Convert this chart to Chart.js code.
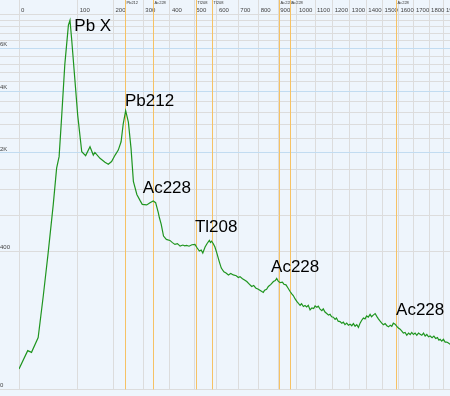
<!DOCTYPE html>
<html>
<head>
<meta charset="utf-8">
<script src="https://cdn.jsdelivr.net/npm/chart.js@4.4.1/dist/chart.umd.min.js"></script>
<style>
  html, body { margin: 0; padding: 0; background: #eef5fc; }
  canvas { display: block; }
</style>
</head>
<body>
<canvas id="spectrumChart" width="450" height="396"></canvas>
<script>
// spectrum: energy (keV) and counts
const energies = [
  0, 7.6, 12, 21, 29, 37, 46.5, 53, 58, 63, 70, 78, 81.6, 85.6, 93, 100, 110, 120, 131.6, 140.6,
  145, 159.5, 174, 184, 194, 205, 215, 224, 231, 239, 248, 257, 265, 277, 288, 296, 312, 324, 336, 345,
  355, 359, 366, 375, 386, 400, 410, 420, 430, 441, 452, 460, 468, 478, 490, 503, 512, 522, 530, 537,
  547, 556, 566, 571, 576, 583, 591, 600, 611, 620, 632, 642, 653, 664, 676, 690, 700, 708, 720, 730,
  741, 752, 765, 775, 785, 798, 810, 823, 830, 840, 849, 862, 875, 885, 892, 900, 910, 922, 930, 941,
  950, 963, 972, 980, 990, 1000, 1008, 1017, 1025, 1035, 1044, 1053, 1062, 1072, 1082, 1092, 1100, 1110, 1118, 1128,
  1138, 1146, 1156, 1166, 1176, 1185, 1194, 1204, 1214, 1222, 1232, 1243, 1253, 1262, 1272, 1282, 1292, 1302, 1312, 1322,
  1332, 1342, 1352, 1362, 1372, 1382, 1392, 1402, 1412, 1423, 1432, 1442, 1454, 1464, 1474, 1485, 1495, 1505, 1516, 1527,
  1538, 1548, 1558, 1568, 1579, 1590, 1600, 1611, 1622, 1632, 1643, 1654, 1665, 1676, 1686, 1697, 1708, 1719, 1730, 1741,
  1752, 1763, 1774, 1785, 1796, 1807, 1820, 1832, 1844, 1856, 1866, 1874, 1885, 1896, 1908, 1919, 1930, 1941
];
const counts = [
  1.3, 8.8, 7.7, 21, 126, 378, 958, 1638, 1907, 2995, 5181, 7308, 7609, 6453, 4505, 3104, 2031, 1932, 2160, 1946,
  2013, 1866, 1772, 1727, 1789, 1946, 2072, 2295, 2834, 3275, 2888, 2116, 1363, 1120, 1021, 958, 949, 984, 1011, 984,
  836, 768, 683, 545, 510, 500, 478, 461, 468, 445, 455, 447, 452, 444, 458, 461, 430, 401, 410, 384,
  436, 470, 500, 480, 493, 470, 436, 380, 314, 270, 246, 238, 227, 236, 227, 222, 212, 217, 205, 198,
  190, 178, 165, 170, 158, 152, 145, 138, 148, 152, 165, 175, 190, 195, 207, 192, 184, 186, 176, 173,
  160, 142, 132, 125, 112, 102, 96, 90, 95, 86, 89, 85, 90, 76, 82, 80, 88, 84, 87, 78,
  74, 79, 70, 66, 62, 64, 58, 57, 52, 55, 48, 47, 44, 46, 41, 44, 40, 42, 39, 43,
  38, 41, 36, 44, 50, 55, 53, 60, 57, 64, 58, 62, 66, 59, 53, 48, 44, 41, 43, 39,
  37, 40, 38, 44, 42, 38, 35, 33, 30, 27, 28, 24, 27, 25, 28, 25, 27, 24, 27, 25.5,
  24, 27, 23, 25, 22, 23, 21, 23, 20, 21, 18, 19, 17, 19, 16, 16, 15, 14
];

// axis ticks
const xTickValues = [0, 100, 200, 300, 400, 500, 600, 700, 800, 900, 1000, 1100, 1200, 1300, 1400, 1500, 1600, 1700, 1800, 1900];
const yTickValues = [0, 400, 800, 1200, 1600, 2000, 2400, 2800, 3200, 3600, 4000, 4400, 4800, 5200, 5600, 6000, 6400, 6800, 7200, 7600, 8000];
const yLabelValues = [0, 400, 2000, 4000, 6000];
const yLabelTexts = ['0', '400', '2K', '4K', '6K'];
const yMajorValues = [2000, 4000, 6000];

// isotope marker lines
const isotopeNames = ['Pb212', 'Ac228', 'Tl208', 'Tl208', 'Ac228', 'Ac228', 'Ac228'];
const isotopeEnergies = [238.6, 338.3, 510.8, 583.2, 911.2, 969.0, 1588.2];

// peak captions, anchored at (energy, counts)
const peakNames = ['Pb X', 'Pb212', 'Ac228', 'Tl208', 'Ac228', 'Ac228'];
const peakEnergies = [91.7, 236.8, 298, 503, 863, 1585];
const peakCounts = [6975, 3452, 1137, 587, 246, 62];

// power-law axes (cube root counts, compressed energy)
function makePowerScale(id, exponent, shift) {
    class PowerScale extends Chart.LinearScale {
        configure() {
            super.configure();
            this._fMin = this.fwd(this.min);
            this._fMax = this.fwd(this.max);
        }
        fwd(v) { return Math.pow(v + shift, exponent); }
        inv(f) { return Math.pow(f, 1 / exponent) - shift; }
        getPixelForValue(value) {
            if (value === null || value === undefined || isNaN(value)) return NaN;
            return this.getPixelForDecimal((this.fwd(value) - this._fMin) / (this._fMax - this._fMin));
        }
        getValueForPixel(pixel) {
            return this.inv(this._fMin + this.getDecimalForPixel(pixel) * (this._fMax - this._fMin));
        }
    }
    PowerScale.id = id;
    PowerScale.defaults = Chart.LinearScale.defaults;
    return PowerScale;
}
Chart.register(makePowerScale('energy', 0.653, 2), makePowerScale('cuberoot', 1 / 3, 0));

const background = {
    id: 'background',
    beforeDraw(chart) {
        const ctx = chart.ctx;
        ctx.save();
        ctx.fillStyle = '#eef5fc';
        ctx.fillRect(0, 0, chart.width, chart.height);
        ctx.restore();
    },
};

const isotopeLines = {
    id: 'isotopeLines',
    beforeDatasetsDraw(chart) {
        const ctx = chart.ctx;
        const x = chart.scales.x;
        ctx.save();
        ctx.lineWidth = 1;
        ctx.font = '4px "Liberation Sans"';
        ctx.textBaseline = 'top';
        isotopeEnergies.forEach((e, i) => {
            const px = Math.round(x.getPixelForValue(e)) - 0.5;
            ctx.strokeStyle = '#f6c264';
            ctx.beginPath();
            ctx.moveTo(px, 0);
            ctx.lineTo(px, chart.chartArea.bottom);
            ctx.stroke();
            ctx.fillStyle = '#333';
            ctx.fillText(isotopeNames[i], px + 1, 1);
        });
        ctx.restore();
    },
};

const peakCaptions = {
    id: 'peakCaptions',
    afterDatasetsDraw(chart) {
        const ctx = chart.ctx;
        const { x, y } = chart.scales;
        ctx.save();
        ctx.font = '17px "Liberation Sans"';
        ctx.fillStyle = '#000';
        ctx.textAlign = 'left';
        ctx.textBaseline = 'alphabetic';
        peakNames.forEach((name, i) => {
            ctx.fillText(name, x.getPixelForValue(peakEnergies[i]), y.getPixelForValue(peakCounts[i]));
        });
        ctx.restore();
    },
};

const ctx = document.getElementById('spectrumChart').getContext('2d');
const spectrumChart = new Chart(ctx, {
    type: 'line',
    data: {
        datasets: [{
            label: 'Spectrum',
            data: energies.map((e, i) => ({ x: e, y: counts[i] })),
            borderColor: '#1f951f',
            borderWidth: 1.2,
            pointRadius: 0,
            tension: 0,
            fill: false,
        }],
    },
    options: {
        responsive: false,
        animation: false,
        devicePixelRatio: 1,
        layout: { padding: { top: 0, left: 0, right: 0, bottom: 2 } },
        plugins: {
            legend: { display: false },
            tooltip: { enabled: false },
        },
        scales: {
            x: {
                type: 'energy',
                position: 'top',
                min: 0,
                max: 1941,
                afterFit: (scale) => { scale.height = 14; },
                afterBuildTicks: (scale) => { scale.ticks = xTickValues.map(v => ({ value: v })); },
                border: { display: false },
                grid: { color: '#dcdcdc', tickLength: 14 },
                ticks: {
                    autoSkip: false,
                    maxRotation: 0,
                    minRotation: 0,
                    align: 'start',
                    labelOffset: 2,
                    padding: -13.6,
                    color: '#444',
                    font: { family: 'Liberation Sans', size: 6 },
                    callback: (v) => String(v),
                },
            },
            y: {
                type: 'cuberoot',
                position: 'left',
                min: 0,
                max: 8000,
                afterFit: (scale) => { scale.width = 19; },
                afterBuildTicks: (scale) => { scale.ticks = yTickValues.map(v => ({ value: v })); },
                border: { display: false },
                grid: {
                    tickLength: 19,
                    color: (c) => (c.tick && yMajorValues.includes(c.tick.value) ? '#c2dcf1' : '#dcdcdc'),
                },
                ticks: {
                    autoSkip: false,
                    crossAlign: 'far',
                    labelOffset: -4,
                    color: '#444',
                    font: { family: 'Liberation Sans', size: 6 },
                    callback: (v) => {
                        const i = yLabelValues.indexOf(v);
                        return i >= 0 ? yLabelTexts[i] : '';
                    },
                },
            },
        },
    },
    plugins: [background, isotopeLines, peakCaptions],
});
</script>
</body>
</html>
